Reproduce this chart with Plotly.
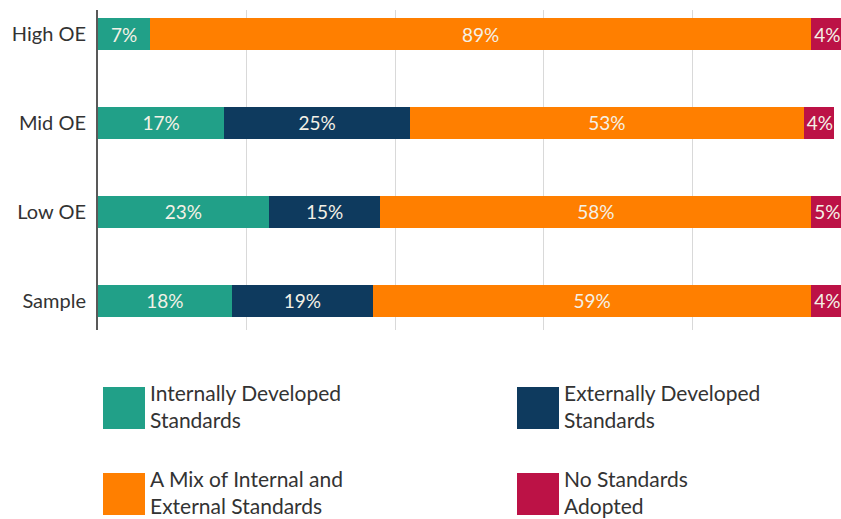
import plotly.graph_objects as go

categories = ["High OE", "Mid OE", "Low OE", "Sample"]
series_names = [
    "Internally Developed<br>Standards",
    "Externally Developed<br>Standards",
    "A Mix of Internal and<br>External Standards",
    "No Standards<br>Adopted",
]
internal = [7, 17, 23, 18]
external = [0, 25, 15, 19]
mix = [89, 53, 58, 59]
none_adopted = [4, 4, 5, 4]
colors = ["#21A088", "#0E3A5E", "#FF7F00", "#BC1246"]

W, H = 841, 519
ML, MR, MT, MB = 98, 0, 10, 189
PW, PH = W - ML - MR, H - MT - MB

FONT = "Lato, Carlito, 'Open Sans', sans-serif"

fig = go.Figure()
all_vals = [internal, external, mix, none_adopted]
anchors = ["middle", "middle", "middle", "start"]
for name, vals, col, anc in zip(series_names, all_vals, colors, anchors):
    fig.add_trace(go.Bar(
        y=categories, x=vals, orientation="h", name=name,
        marker=dict(color=col, line=dict(width=0)),
        text=[f"{v}%" if v > 0 else "" for v in vals],
        textposition="inside", insidetextanchor=anc,
        constraintext="none", textangle=0,
        textfont=dict(family=FONT, size=19, color="#F4F1E6"),
        showlegend=False,
    ))

def px_x(p):
    return (p - ML) / PW

def px_y(p):
    return (MT + PH - p) / PH

# custom legend (2x2 grid with large swatches)
legend_pos = [(103, 387), (517, 387), (103, 473), (517, 473)]
shapes = []
annotations = []
for (x0, y0), name, col in zip(legend_pos, series_names, colors):
    shapes.append(dict(type="rect", xref="paper", yref="paper",
                       x0=px_x(x0), x1=px_x(x0 + 42), y0=px_y(y0 + 42), y1=px_y(y0),
                       fillcolor=col, line=dict(width=0)))
    annotations.append(dict(xref="paper", yref="paper", x=px_x(x0 + 45), y=px_y(y0 - 9),
                            xanchor="left", yanchor="top", align="left",
                            text=name, showarrow=False,
                            font=dict(family=FONT, size=21, color="#333333")))

fig.update_layout(
    width=W, height=H,
    margin=dict(l=ML, r=MR, t=MT, b=MB, pad=0),
    barmode="stack", bargap=0.64,
    plot_bgcolor="white", paper_bgcolor="white",
    font=dict(family=FONT, size=18, color="#333333"),
    xaxis=dict(range=[0, 100], dtick=20, showgrid=True, gridcolor="#D9D9D9",
               gridwidth=1, showticklabels=False, zeroline=False, ticks=""),
    yaxis=dict(categoryorder="array", categoryarray=categories,
               range=[3.33, -0.27], showgrid=False, zeroline=False,
               showline=True, linecolor="#595959", linewidth=2,
               ticks="", ticklabelstandoff=6,
               tickfont=dict(family=FONT, size=20, color="#333333")),
    shapes=shapes, annotations=annotations,
)

fig.write_html("out.html", config={"displayModeBar": False},
               post_script="document.body.style.margin='0';document.body.style.overflow='hidden';")
